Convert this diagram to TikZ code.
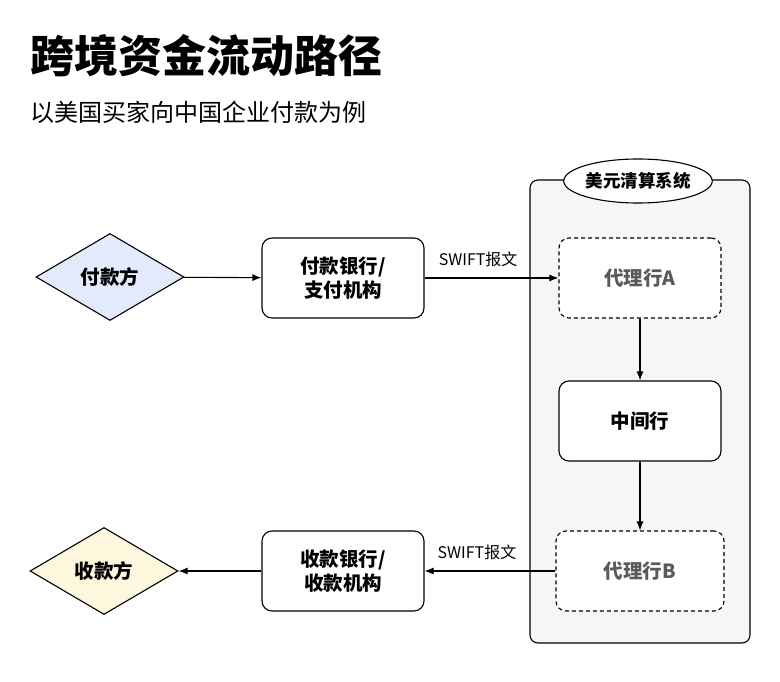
\documentclass[tikz,border=0pt]{standalone}
\usepackage{fontspec}
\setmainfont{Noto Sans CJK SC}
\usepackage{xcolor}
\usetikzlibrary{arrows.meta,positioning,shapes.geometric}

\definecolor{payerblue}{HTML}{E3EAFB}
\definecolor{payeeyellow}{HTML}{FDF7DE}
\definecolor{panelgray}{HTML}{F6F6F6}
\definecolor{agentgray}{HTML}{5A5A5A}

\begin{document}
\begin{tikzpicture}[x=1pt,y=-1pt,
  every node/.style={font=\bfseries\fontsize{19.5}{24}\selectfont},
  party/.style={diamond,draw,line width=1.1pt,minimum width=148pt,minimum height=87pt,inner sep=0pt},
  bank/.style={draw,rounded corners=10pt,line width=1.1pt,fill=white,minimum width=162pt,minimum height=80pt,align=center},
  agent/.style={bank,dash pattern=on 4pt off 3pt,text=agentgray},
  flow/.style={-{Latex[length=9pt,width=7pt]},line width=1.1pt},
  msg/.style={font=\fontsize{16}{18}\selectfont,above=7pt}
]
\useasboundingbox (0,0) rectangle (780,682);
\node[anchor=west,font=\bfseries\fontsize{44}{50}\selectfont] (title) at (27,56) {跨境资金流动路径};
\node[anchor=west,font=\fontsize{24}{28}\selectfont] (sub) at (27,112) {以美国买家向中国企业付款为例};

% clearing system panel
\node[draw,line width=1.1pt,fill=panelgray,rounded corners=8pt,minimum width=220pt,minimum height=463pt] (usd) at (640,411.5) {};
\node[ellipse,draw,line width=1.1pt,fill=white,minimum width=138pt,minimum height=44pt,inner sep=0pt,font=\bfseries\fontsize{17.5}{20}\selectfont] (usdlbl) at (638,181) {美元清算系统};

\node[party,fill=payerblue] (payer) at (110,277) {付款方};
\node[bank] (payerbank) at (343,278) {付款银行/\\支付机构};
\node[agent] (agentA) at (640,278) {代理行A};
\node[bank] (mid) at (640,421) {中间行};
\node[agent,minimum width=168pt] (agentB) at (640,571) {代理行B};
\node[bank] (payeebank) at (343,571) {收款银行/\\收款机构};
\node[party,fill=payeeyellow] (payee) at (104,571) {收款方};

\draw[flow] (payer) -- (payerbank);
\draw[flow] (payerbank) -- node[msg,pos=0.4]{SWIFT报文} (agentA);
\draw[flow] (agentA) -- (mid);
\draw[flow] (mid) -- (agentB);
\draw[flow] (agentB) -- node[msg,pos=0.6]{SWIFT报文} (payeebank);
\draw[flow] (payeebank) -- (payee);
\end{tikzpicture}
\end{document}
